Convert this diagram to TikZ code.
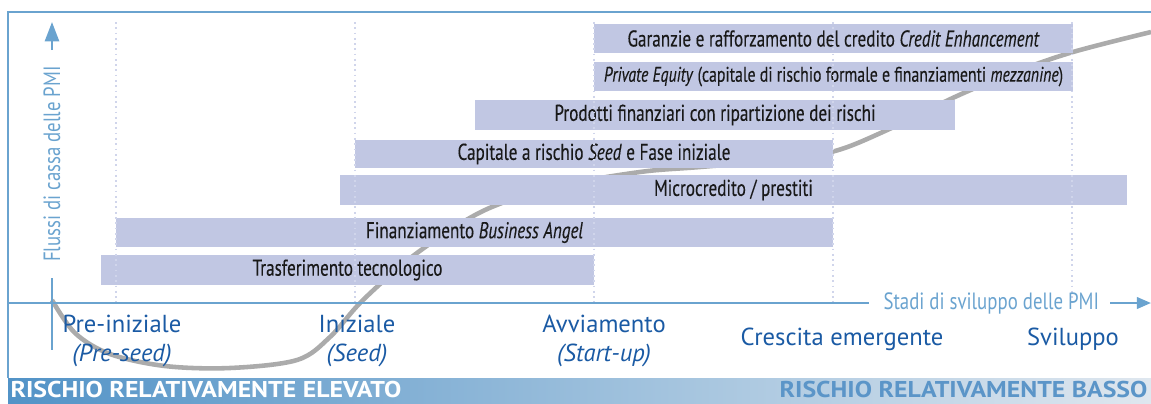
\documentclass[tikz,border=0pt]{standalone}
\usepackage{fontspec}
\setmainfont{PT Sans}
\newfontfamily\condfont[FakeStretch=0.8]{PT Sans}
\newfontfamily\barfont[FakeStretch=0.75, FakeBold=0.25]{PT Sans}
\newfontfamily\riskfont[FakeStretch=1.13]{PT Sans}
\usetikzlibrary{arrows.meta, positioning}

\definecolor{axisblue}{HTML}{6AA3CF}
\definecolor{stageblue}{HTML}{1A5AA4}
\definecolor{barfill}{HTML}{C1C7E3}
\definecolor{dotline}{HTML}{D0D5EB}
\definecolor{curvegray}{HTML}{ABABAB}
\definecolor{riskdark}{HTML}{5293C7}
\definecolor{riskmid}{HTML}{BBD1E6}
\definecolor{risklight}{HTML}{DFE7EF}
\definecolor{risktext}{HTML}{5B95C8}

% bar: name, x1, y1, x2, y2, text (pixel units)
\newcommand{\fundbar}[6]{%
  \node[fundbar, minimum width={(#4-#2)*0.02cm}, minimum height={(#5-#3)*0.02cm}]
    (#1) at ({(#2+#4)/2},{(#3+#5)/2}) {#6};}

\begin{document}
\begin{tikzpicture}[x=0.02cm, y=-0.02cm, semithick,
    fundbar/.style={fill=barfill, inner sep=0pt, text=black!90, font=\barfont\fontsize{13}{14}\selectfont},
    stage/.style={text=stageblue, font=\fontsize{14}{16}\selectfont, align=center, inner sep=0pt},
    axislabel/.style={text=axisblue, font=\condfont\fontsize{13.4}{15}\selectfont, inner sep=0pt},
    risk/.style={font=\riskfont\bfseries\fontsize{13}{14}\selectfont, inner sep=0pt}]
  \useasboundingbox (0,0) rectangle (1151,403);

  % frame
  \draw[axisblue, line width=1.1pt] (8,378) -- (8,12) -- (1151,12);

  % cash flow curve
  \draw[curvegray, line width=2.6pt] plot[smooth, tension=0.55] coordinates {
    (52,300) (75,333) (110,354) (165,366) (230,368) (297,360) (330,337) (363,300)
    (417,253) (485,210) (560,186) (640,172) (700,167) (780,160) (835,151) (885,131)
    (957,96) (1015,72) (1073,52) (1151,32)};

  % financing bars
  \fundbar{ge}{594}{24}{1073}{53}{Garanzie e rafforzamento del credito \textit{Credit Enhancement}}
  \fundbar{pe}{594}{62}{1073}{91}{\fontsize{12}{13}\selectfont\textit{Private Equity} (capitale di rischio formale e finanziamenti \textit{mezzanine})}
  \fundbar{pr}{475}{100}{955}{130}{Prodotti finanziari con ripartizione dei rischi}
  \fundbar{cs}{355}{140}{833}{168}{Capitale a rischio \textit{Seed} e Fase iniziale}
  \fundbar{mc}{340}{175}{1127}{205}{Microcredito / prestiti}
  \fundbar{ba}{116}{218}{833}{247}{Finanziamento \textit{Business Angel}}
  \fundbar{tt}{101}{255}{594}{285}{Trasferimento tecnologico}

  \foreach \x in {116,355,594,833,1072}
    \draw[dotline, dotted, line width=1pt] (\x,22) -- (\x,303);

  % axes
  \node[axislabel, rotate=90] (ylab) at (52,164) {Flussi di cassa delle PMI};
  \coordinate (ytop) at (52,22);
  \coordinate (ytail) at (52,50);
  \coordinate (ylow) at (52,278);
  \coordinate (ybot) at (52,350);
  \draw[axisblue, line width=1.4pt, -{Triangle[length=11pt, width=8pt]}] (ytail) -- (ytop);
  \draw[axisblue, line width=1.4pt] (ylow) -- (ybot);

  \node[axislabel, anchor=west] (xlab) at (883,303) {Stadi di sviluppo delle PMI};
  \coordinate (xstart) at (8,303);
  \coordinate (xend) at (1151,303);
  \draw[axisblue, line width=1.4pt] (xstart) -- ([xshift=-8pt]xlab.west);
  \draw[axisblue, line width=1.4pt, -{Triangle[length=8pt, width=6.5pt]}] ([xshift=6pt]xlab.east) -- (xend);

  % stages
  \node[stage] (pre) at (122,341) {Pre-iniziale\\\textit{(Pre-seed)}};
  \node[stage] (ini) at (357,341) {Iniziale\\\textit{(Seed)}};
  \node[stage] (avv) at (604,341) {Avviamento\\\textit{(Start-up)}};
  \node[stage] (cre) at (842,339) {Crescita emergente};
  \node[stage] (svi) at (1073,339) {Sviluppo};

  % risk band
  \shade[left color=riskdark, middle color=riskmid, right color=risklight] (8,378) rectangle (1151,403);
  \node[risk, text=white, anchor=base west] (high) at (10,397) {RISCHIO RELATIVAMENTE ELEVATO};
  \node[risk, text=risktext, anchor=base east] (low) at (1148,397) {RISCHIO RELATIVAMENTE BASSO};
\end{tikzpicture}
\end{document}
